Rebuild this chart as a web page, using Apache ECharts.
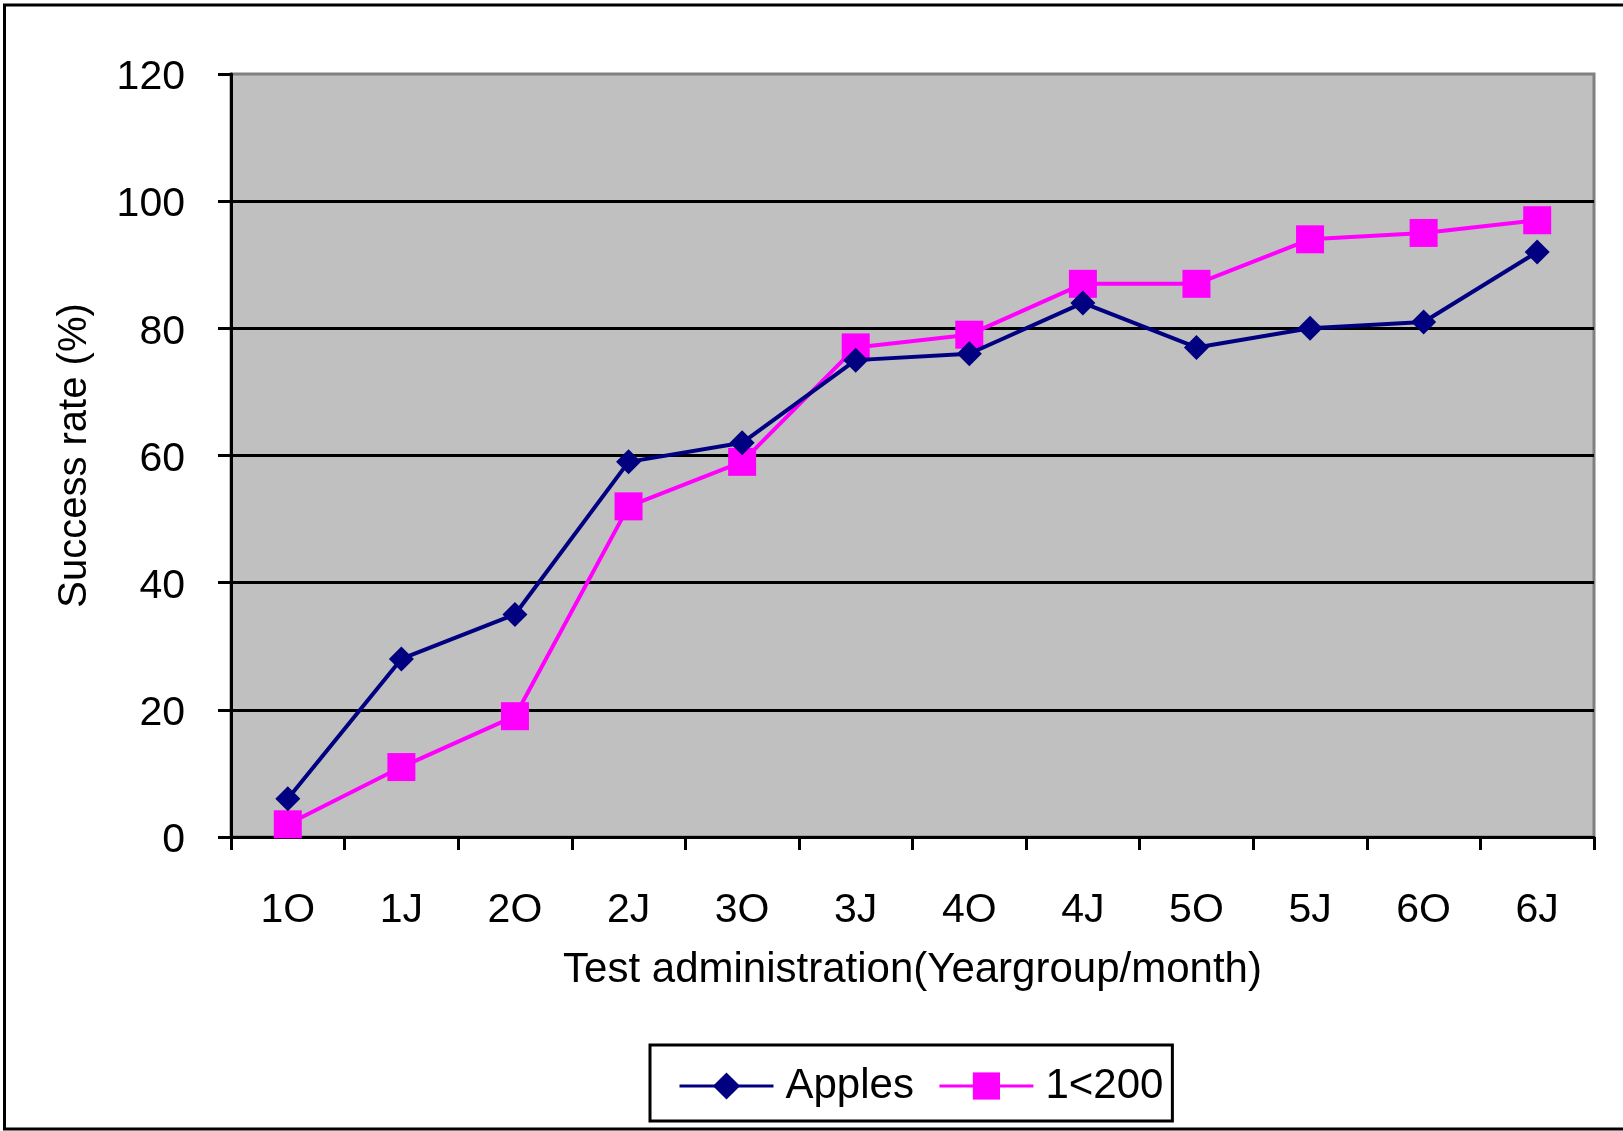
<!DOCTYPE html>
<html>
<head>
<meta charset="utf-8">
<title>Success rate by test administration</title>
<script src="https://cdn.jsdelivr.net/npm/echarts@6/dist/echarts.min.js"></script>
<style>
  html, body { margin: 0; padding: 0; background: #ffffff; }
  #chart { width: 1623px; height: 1131px; }
</style>
</head>
<body>
<div id="chart"></div>
<script>
// Test administrations: year group + month (O = October, J = June)
const categories = ['1O', '1J', '2O', '2J', '3O', '3J', '4O', '4J', '5O', '5J', '6O', '6J'];

// Success rates in percent
const applesValues = [6, 28, 35, 59, 62, 75, 76, 84, 77, 80, 81, 92];
const under200Values = [2, 11, 19, 52, 59, 77, 79, 87, 87, 94, 95, 97];

// Value axis ticks
const yTicks = [0, 20, 40, 60, 80, 100, 120];

const FONT = '"Liberation Sans", Arial, sans-serif';
const NAVY = '#000080';
const MAGENTA = '#FF00FF';

const chart = echarts.init(document.getElementById('chart'), null, { renderer: 'canvas' });

chart.setOption({
  backgroundColor: '#ffffff',
  animation: false,
  textStyle: { fontFamily: FONT, color: '#000' },
  graphic: [{
    // frame around the whole chart area
    type: 'rect',
    silent: true,
    z: 100,
    shape: { x: 4.5, y: 5, width: 1700, height: 1124 },
    style: { fill: 'none', stroke: '#000', lineWidth: 3 }
  }],
  grid: {
    left: 231,
    right: 29,
    top: 74,
    bottom: 294,
    show: true,
    backgroundColor: '#C0C0C0',
    borderColor: '#808080',
    borderWidth: 3
  },
  legend: {
    left: 650,
    top: 1045,
    orient: 'horizontal',
    itemWidth: 94,
    itemHeight: 34,
    itemGap: 24,
    padding: [20, 9, 14, 28],
    borderColor: '#000',
    borderWidth: 3,
    backgroundColor: '#fff',
    lineStyle: { width: 3 },
    textStyle: { fontFamily: FONT, fontSize: 42, color: '#000', padding: [0, 0, 0, 7] },
    data: ['Apples', '1<200']
  },
  xAxis: {
    type: 'category',
    data: categories,
    boundaryGap: true,
    name: 'Test administration(Yeargroup/month)',
    nameLocation: 'middle',
    nameGap: 112,
    nameTextStyle: { fontFamily: FONT, fontSize: 42, color: '#000' },
    axisLine: { show: true, lineStyle: { color: '#000', width: 3 } },
    axisTick: { show: true, alignWithLabel: false, length: 13, lineStyle: { color: '#000', width: 3 } },
    axisLabel: { fontFamily: FONT, fontSize: 41, color: '#000', margin: 53, interval: 0 },
    splitLine: { show: false }
  },
  yAxis: {
    type: 'value',
    min: yTicks[0],
    max: yTicks[yTicks.length - 1],
    interval: yTicks[1] - yTicks[0],
    name: 'Success rate (%)',
    nameLocation: 'middle',
    nameGap: 136,
    nameRotate: 90,
    nameTextStyle: { fontFamily: FONT, fontSize: 40, color: '#000' },
    axisLine: { show: true, lineStyle: { color: '#000', width: 3 } },
    axisTick: { show: true, length: 13, lineStyle: { color: '#000', width: 3 } },
    axisLabel: {
      margin: 46,
      formatter: '{v|{value}}',
      rich: {
        v: { fontFamily: FONT, fontSize: 41, color: '#000', padding: [8, 0, 0, 0] }
      }
    },
    splitLine: {
      show: true,
      showMinLine: false,
      showMaxLine: false,
      lineStyle: { color: '#000', width: 3 }
    }
  },
  series: [
    {
      name: 'Apples',
      type: 'line',
      data: applesValues,
      symbol: 'diamond',
      symbolSize: 25,
      z: 3,
      lineStyle: { color: NAVY, width: 4 },
      itemStyle: { color: NAVY }
    },
    {
      name: '1<200',
      type: 'line',
      data: under200Values,
      symbol: 'rect',
      symbolSize: 28,
      z: 2,
      lineStyle: { color: MAGENTA, width: 4 },
      itemStyle: { color: MAGENTA }
    }
  ]
});
</script>
</body>
</html>
